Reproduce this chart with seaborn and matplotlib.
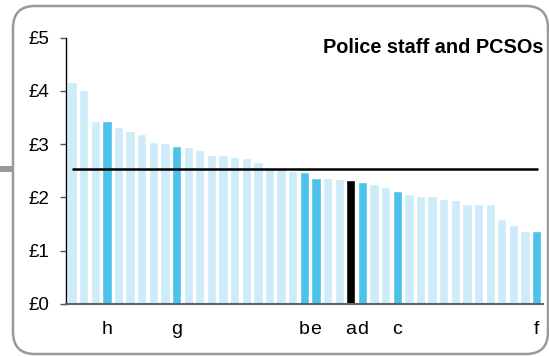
import matplotlib
matplotlib.use("Agg")
import matplotlib.pyplot as plt
import matplotlib.patches as mpatches
import seaborn as sns
import pandas as pd

values = [4.16, 4.02, 3.43, 3.43, 3.32, 3.25, 3.19, 3.05, 3.02, 2.96,
          2.94, 2.89, 2.80, 2.80, 2.76, 2.74, 2.66, 2.56, 2.56, 2.50,
          2.47, 2.37, 2.36, 2.35, 2.33, 2.29, 2.25, 2.20, 2.12, 2.07,
          2.03, 2.02, 1.98, 1.95, 1.88, 1.87, 1.87, 1.59, 1.48, 1.38,
          1.38]
labels = [""] * len(values)
labels[3] = "h"
labels[9] = "g"
labels[20] = "b"
labels[21] = "e"
labels[24] = "a"
labels[25] = "d"
labels[28] = "c"
labels[40] = "f"
groups = ["other"] * len(values)
for i, l in enumerate(labels):
    if l:
        groups[i] = "highlight"
groups[24] = "selected"
average = 2.53
yticks = [0, 1, 2, 3, 4, 5]
ytick_labels = ["£0", "£1", "£2", "£3", "£4", "£5"]
title = "Police staff and PCSOs"

palette = {"other": "#CDEBF8", "highlight": "#4BC2EB", "selected": "#000000"}

sns.set_theme(style="white")
plt.rcParams["font.family"] = ["Liberation Sans", "DejaVu Sans"]

df = pd.DataFrame({"pos": list(range(len(values))), "value": values, "group": groups})

W, H = 549, 357
fig = plt.figure(figsize=(W / 100, H / 100), dpi=100)
left, right, bottom, top = 66.2, 542.5, 304.0, 37.7
ax = fig.add_axes([left / W, (H - bottom) / H, (right - left) / W, (bottom - top) / H])

sns.barplot(data=df, x="pos", y="value", hue="group", palette=palette, dodge=False,
            width=0.8, legend=False, ax=ax, saturation=1, order=list(range(len(values))))

ax.hlines(average, -0.03, len(values) - 0.9, color="black", linewidth=1.8, zorder=5)

ax.set_xlim(-0.5, len(values) - 0.5)
ax.set_ylim(0, 5)
ax.set_yticks(yticks)
ax.set_yticklabels(ytick_labels, fontsize=13.5)
ax.set_xticks(range(len(values)))
ax.set_xticklabels(labels, fontsize=14)
ax.set_xlabel("")
ax.set_ylabel("")
ax.tick_params(axis="x", length=0, pad=12, colors="black")
ax.tick_params(axis="y", length=4.5, width=1, color="#555555", pad=7.5, labelcolor="black", left=True)
for s in ["top", "right"]:
    ax.spines[s].set_visible(False)
ax.spines["left"].set_color("black")
ax.spines["left"].set_linewidth(1)
ax.spines["bottom"].set_color("#5a6469")
ax.spines["bottom"].set_linewidth(1.5)

ax.text(1.002, 0.965, title, transform=ax.transAxes, ha="right", va="center",
        fontsize=14.3, fontweight="bold", color="black")

border = mpatches.FancyBboxPatch((13, 3), 535, 348,
                                 boxstyle="round,pad=0,rounding_size=22",
                                 transform=None, facecolor="none",
                                 edgecolor="#9a9a9a", linewidth=1.8)
fig.patches.append(border)
stub = mpatches.Rectangle((0, 185), 12, 6, transform=None, facecolor="#9a9a9a",
                          edgecolor="none")
fig.patches.append(stub)

fig.savefig("out.png", dpi=100)
